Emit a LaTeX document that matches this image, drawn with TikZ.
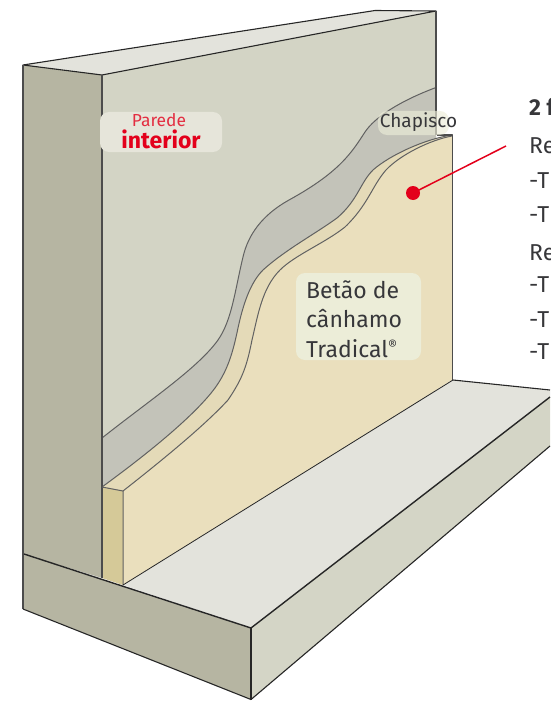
\documentclass[tikz,border=0pt]{standalone}
\usepackage{fontspec}
\setmainfont{Fira Sans}
\definecolor{wallface}{HTML}{D3D4C5}
\definecolor{walltop}{HTML}{E3E3DC}
\definecolor{wallside}{HTML}{B6B5A2}
\definecolor{chap}{HTML}{C3C3B9}
\definecolor{tradtop}{HTML}{E4DAB8}
\definecolor{tradfront}{HTML}{EADFBD}
\definecolor{tradside}{HTML}{D5C998}
\definecolor{plateface}{HTML}{D4D5C6}
\definecolor{redmark}{HTML}{E3001B}
\definecolor{ink}{HTML}{37373A}
\definecolor{bubblea}{HTML}{E6E5DA}
\definecolor{bubbleb}{HTML}{ECEDD8}
\tikzset{
 edge/.style={draw=black!85,line width=1.1pt,line join=round},
 grayedge/.style={draw=black!70,line width=1.1pt,line join=round},
 curveedge/.style={draw=black!62,line width=1pt},
 bubble/.style={rounded corners=9pt,align=center,inner sep=0pt,text=ink},
 sidetext/.style={anchor=base west,inner sep=0pt,text=ink,font=\fontsize{23}{23}\selectfont},
 bigtext/.style={text=ink,anchor=base west,inner sep=0pt,font=\fontsize{23}{23}\selectfont},
}
\def\curveone{(436,87.5) .. controls (400,101) and (375,117) .. (365,132) .. controls (352,152) and (340,172) .. (289,200) .. controls (262,215) and (248,235) .. (243,257) .. controls (235,290) and (232,320) .. (218,340) .. controls (198,368) and (150,400) .. (102,438)}
\def\curvetwo{(452,135) .. controls (425,139) and (390,155) .. (373,170) .. controls (360,183) and (358,200) .. (337,218) .. controls (315,234) and (285,250) .. (263,270) .. controls (250,283) and (243,305) .. (238,328) .. controls (233,352) and (228,370) .. (215,388) .. controls (195,415) and (150,452) .. (102,487)}
\def\curvethree{(452,136) .. controls (430,140) and (400,155) .. (386,170) .. controls (372,186) and (368,205) .. (345,227) .. controls (325,243) and (295,255) .. (280,270) .. controls (262,288) and (258,315) .. (252,340) .. controls (247,365) and (243,378) .. (228,400) .. controls (205,425) and (165,458) .. (123,491)}
\begin{document}
\begin{tikzpicture}[x=1pt,y=-1pt]
\useasboundingbox (0,0) rectangle (550,706);
% wall
\fill[wallface] (102,75) -- (436,11) -- (436,150) -- (102,500) -- cycle;
\fill[walltop] (23,65) -- (375,10.5) -- (436,11) -- (102,75) -- cycle;
\fill[wallside] (23,65) -- (102,75) -- (102,578) -- (23,554) -- cycle;
\fill[chap] \curveone -- (102,495) -- (436,495) -- cycle;
% tradical
\fill[tradtop] \curvetwo -- (123,491) -- (452,300) -- cycle;
\fill[tradfront] \curvethree -- (123,585) -- (452,380) -- cycle;
\fill[tradside] (102,487) -- (123,491) -- (123,585) -- (102,578) -- cycle;
% floor and plinth
\fill[walltop] (123,585) -- (453,380) -- (550,390) -- (550,397) -- (251,628) -- cycle;
\fill[plateface] (251,628) -- (550,397) -- (550,446) -- (251,699.5) -- cycle;
\fill[wallside] (24,554) -- (251,628) -- (251,699.5) -- (24,609) -- cycle;
% curves
\draw[curveedge] \curveone;
\draw[curveedge] \curvetwo;
\draw[curveedge] \curvethree;
% edges
\draw[edge] (23,65) -- (375,10.5) -- (436,11) -- (102,75) -- cycle;
\draw[grayedge] (23,65) -- (23,609);
\draw[grayedge] (102,75) -- (102,578);
\draw[grayedge] (436,11) -- (436,135);
\draw[grayedge] (437,135) -- (452.5,135) -- (452.5,380);
\draw[curveedge] (102,487) -- (123,491) -- (123,585);
\draw[edge,line width=.8pt] (123,585) -- (453,380);
\draw[edge] (453,380) -- (550,390);
\draw[edge,line width=1.4pt] (24,554) -- (251,628) -- (550,397);
\draw[edge] (251,628) -- (251,699.5);
\draw[edge] (23,609) -- (251,699.5) -- (550,446);
% labels
\node[bubble,fill=bubblea,minimum width=122pt,minimum height=40pt] (parede) at (161,132) {};
\node[text=redmark,opacity=.8,font=\fontsize{17.4}{17.4}\selectfont,inner sep=0pt,anchor=base] (paredet) at (159,126) {Parede};
\node[text=redmark,font=\bfseries\fontsize{23}{23}\selectfont,inner sep=0pt,anchor=base] (interior) at (161,148) {interior};
\node[bubble,fill=bubbleb,opacity=.65,minimum width=71pt,minimum height=24pt] (chapbox) at (413.5,123) {};
\node[text=ink,font=\fontsize{19}{19}\selectfont,inner sep=0pt,anchor=base] (chapt) at (418.5,128) {Chapisco};
\node[bubble,fill=bubbleb,minimum width=125pt,minimum height=87pt] (betao) at (358.5,316.5) {};
\node[bigtext] (b1) at (306,298) {Betão de};
\node[bigtext] (b2) at (306,327) {cânhamo};
\node[bigtext] (b3) at (306,357) {Tradical\raisebox{7pt}{\fontsize{14}{14}\selectfont ®}};
% leader
\node[circle,fill=redmark,inner sep=0pt,minimum size=14pt] (dot) at (413,193) {};
\coordinate (leadend) at (506,146);
\draw[redmark,line width=1.5pt] (dot.center) -- (leadend);
% cropped text
\node[sidetext,font=\bfseries\fontsize{23}{23}\selectfont] (t0) at (529,116) {2 f};
\node[sidetext] (t1) at (529,153) {Re};
\node[sidetext] (t2) at (529,188) {-T};
\node[sidetext] (t3) at (529,222) {-T};
\node[sidetext] (t4) at (529,260) {Re};
\node[sidetext] (t5) at (529,292) {-T};
\node[sidetext] (t6) at (529,327) {-T};
\node[sidetext] (t7) at (529,359) {-T};
\end{tikzpicture}
\end{document}
